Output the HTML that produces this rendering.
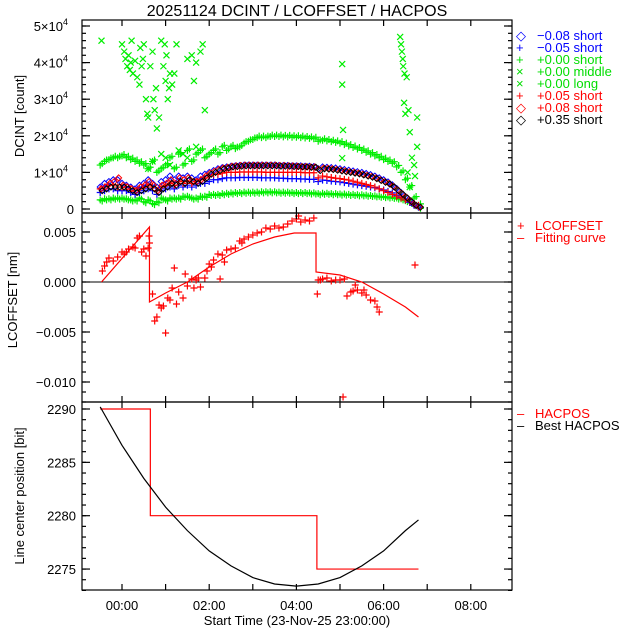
<!DOCTYPE html>
<html><head><meta charset="utf-8"><style>
body{margin:0;background:#fff}
svg{display:block;font-family:"Liberation Sans","DejaVu Sans",sans-serif}
</style></head><body>
<svg id="c" width="640" height="640" viewBox="0 0 640 640"></svg>
<script>
// ---------- data ----------
const times=[];for(let i=0;i<74;i++)times.push(-0.5+i*0.1);
const greenHi=[12,13,13.5,14,14, 14.5,14,13.5,13,12.5,12,11,13,10,11, 12,14,11,15,12,16,13,15,16,14, 15,16,15,17,16,17,16.5,17,18,18.5, 19,19.5,19.5,19.5,19.8,19.8,19.8,19.7,19.7,19.6, 19.6,19.5,19.4,19.3,19.2,18.5,18.8,18.6,18.4,18.2, 18,17.6,17.2,16.8,16.4,16,15.5,15,14.5,14, 13.5,13,12.5,11.5,10,8,6,3,1];
const greenLo=[2.5,2.8,2.8,3,3, 3,2.8,2.5,2.5,3,2,2.5,1.5,2,3, 2.5,3,3,3,3.5,3.5,3,3,3.5,3.5, 4,4,4,4.2,4.3,4.4,4.5,4.5,4.6,4.6, 4.6,4.6,4.7,4.7,4.7,4.7,4.6,4.6,4.6,4.5, 4.5,4.5,4.5,4.4,4.4,4.2,4.3,4.3,4.2,4.2, 4.1,4.1,4,4,3.9,3.9,3.8,3.7,3.6,3.5, 3.4,3.3,3.2,3,2.8,2.3,1.8,1.2,0.5];
const blueP=[4.5,5,5.5,5.5,5, 5,5,4.5,4,4.5,5,5.5,5,4,5, 5.5,6,5.5,6.5,6,6.5,6,6.5,7,7, 7.5,8,8,8.3,8.5,8.5,8.5,8.6,8.6,8.6, 8.6,8.6,8.5,8.5,8.5,8.5,8.4,8.4,8.3,8.3, 8.3,8.2,8.2,8.1,8.1,7.5,7.9,7.8,7.6,7.5, 7.4,7.2,7,6.8,6.6,6.4,6.2,6,5.8,5.5, 5.2,4.8,4.4,3.8,3.2,2.5,1.8,1,0.5];
const redP=[5.5,6,6.5,6.5,6, 6,6,5.5,5,5.5,6,6.5,6,5,6, 6.5,7,6.5,7.5,7,7.5,7,7.5,8,8.5, 9,9.5,9.5,9.8,10,10,10,10.1,10.1,10.1, 10.1,10.1,10.1,10,10,10,10,10,10,10, 10,10,9.9,9.9,9.9,8.5,9,8.8,8.6,8.4, 8.3,8.1,7.9,7.6,7.3,7,6.7,6.4,6,5.5, 5,4.5,4,3.5,3,2.5,2,1.5,1];
const blackD=[5,5.5,6,6,6, 6,5.5,5,4.5,5,5.5,6,5.5,4.5,5.5, 6,7,6.5,7.5,7,8,7.5,7,7.5,8.5, 9.5,10,10.5,11,11.2,11.5,11.6,11.7,11.8,11.8, 11.8,11.8,11.8,11.8,11.8,11.8,11.7,11.7,11.7,11.6, 11.6,11.5,11.5,11.4,11.4,10.5,11,10.9,10.8,10.6, 10.4,10.2,10,9.8,9.6,9.3,9,8.7,8.3,7.8, 7.3,6.8,6,5,4,3,2,1,0.5];
const blueD=[6,7,7.5,8,8, 7,6.5,6,5.5,6.5,7,8,7,6,7.5, 8,9,8,9,8.5,9,8.5,8,9,9.5, 10,10.5,11,11.3,11.5,11.7,11.8,11.9,12,12, 12,12,12,12,12,12,11.9,11.9,11.9,11.8, 11.8,11.8,11.7,11.7,11.6,11,11.5,11.4,11.3,11.2, 11,10.8,10.6,10.4,10.2,10,9.7,9.4,9,8.5, 8,7.4,6.6,5.6,4.5,3.4,2.3,1.2,0.6];
const redD=[5.5,6,7,7.5,8.5, 6.5,6,5.5,5,6,6.5,7.5,6.5,5,6.5, 7,8,7,8.5,8,8.5,7.5,7.5,8,9, 9.8,10.3,10.8,11.2,11.4,11.7,11.8,11.9,12,12, 12,12,12,12,12,12,11.9,11.9,11.8,11.8, 11.7,11.6,11.6,11.5,11.5,10.8,11.2,11.1,11,10.8, 10.6,10.4,10.2,10,9.8,9.5,9.2,8.9,8.5,8, 7.5,7,6.2,5.2,4.2,3.2,2.2,1.1,0.5];
const gxT=[-0.47,0.0,0.05,0.08,0.12,0.15,0.18,0.2,0.22,0.25,0.3,0.35,0.4,0.42,0.45,0.48,0.5,0.55,0.58,0.6,0.65,0.7,0.72,0.75,0.78,0.8,0.85,0.9,0.95,0.98,1.0,1.02,1.05,1.08,1.1,1.15,1.2,1.25,1.5,1.6,1.65,1.7,1.8,1.85,1.9,0.7,0.9,1.1,1.3,1.5,1.7,0.6,1.0,1.4,5.05,5.05,5.07,5.05,6.38,6.4,6.42,6.44,6.45,6.48,6.53,6.47,6.57,6.5,6.77,6.6,6.77,6.65,6.7,6.55,6.72,6.6];
const gxV=[46,45,43,41,39,42,38,40,46,37,40.5,36,34,44,39,41,45,30,26,25,39,43,30,27,33,22,25,46,39,45,35,42,30,33,37,34,37,45,41,42,35,40,43,45,27,13,15,12,16,14,17,11,14,15,39.6,34,21.6,13.9,47,45,43,41,39,37,36,29,27,26,25,21,17,14,12,10,9,6];
const lcT=[-0.45,-0.4,-0.35,-0.3,-0.2,-0.1,0.0,0.05,0.1,0.15,0.25,0.3,0.35,0.4,0.45,0.5,0.55,0.6,0.63,0.62,0.7,0.75,0.8,0.85,0.9,0.95,1.0,1.05,1.1,1.15,1.2,1.25,1.3,1.4,1.45,1.5,1.6,1.65,1.7,1.75,1.8,1.9,1.95,2.0,2.05,2.1,2.2,2.25,2.3,2.35,2.4,2.5,2.6,2.7,2.75,2.8,2.9,3.0,3.1,3.2,3.3,3.4,3.5,3.6,3.7,3.8,3.9,4.0,4.05,4.1,4.2,4.3,4.4,4.5,4.48,4.55,4.6,4.7,4.8,4.9,5.0,5.1,5.16,5.25,5.3,5.35,5.4,5.5,5.55,5.6,5.7,5.8,5.85,5.9,6.72,5.07];
const lcV=[0.0011,0.0016,0.002,0.0024,0.0021,0.0025,0.003,0.0028,0.003,0.0033,0.0035,0.0034,0.0044,0.0046,0.003,0.0033,0.0026,0.0034,0.0039,0.0046,-0.0012,-0.0039,-0.0035,-0.0023,-0.0026,-0.0024,-0.0051,-0.0016,-0.0018,-0.0006,0.0014,-0.0022,-0.001,-0.0016,0.0008,-0.0004,0.0003,-0.0006,0.0002,0.0004,-0.0005,0.0004,0.0011,0.0018,0.0015,0.0022,0.0028,0.0003,0.0027,0.002,0.0032,0.0033,0.0034,0.0041,0.0039,0.0043,0.0045,0.0047,0.0049,0.005,0.0054,0.0053,0.0056,0.0054,0.0055,0.0058,0.0061,0.0063,0.0066,0.006,0.0062,0.0061,0.0064,0.0002,-0.0012,0.0002,0.0003,0.0004,0.0001,0.0002,0.0002,0.0003,-0.0014,-0.001,-0.0009,-0.0003,-0.0008,-0.0011,-0.0008,-0.0013,-0.0018,-0.0019,-0.0025,-0.003,0.0017,-0.0115];
const fitT=[-0.47,0.63,0.63,1.0,1.5,2.0,2.5,3.0,3.5,3.95,4.45,4.45,5.0,5.5,6.0,6.5,6.8];
const fitV=[0,0.0055,-0.002,-0.0011,0,0.0015,0.0028,0.0038,0.0045,0.0049,0.0049,0.001,0.0007,0,-0.0012,-0.0025,-0.0035];
const hacT=[-0.5,0.65,0.65,4.47,4.47,6.8];
const hacV=[2290,2290,2280,2280,2275,2275];
const bestT=[-0.5,0,0.5,1,1.5,2,2.5,3,3.5,4,4.5,5,5.5,6,6.5,6.8];
const bestV=[2290.2,2286.6,2283.5,2280.8,2278.6,2276.7,2275.3,2274.2,2273.6,2273.4,2273.6,2274.2,2275.3,2276.7,2278.6,2279.6];
const xTickLabels=["00:00","02:00","04:00","06:00","08:00"];
const topTicks=["0","1×10","2×10","3×10","4×10","5×10"];
const midTicks=["0.005","0.000","\u22120.005","\u22120.010"];
const botTicks=["2290","2285","2280","2275"];

// ---------- helpers ----------
const NS="http://www.w3.org/2000/svg",svg=document.getElementById('c');
function mk(tag,at,parent){const e=document.createElementNS(NS,tag);for(const k in at)e.setAttribute(k,at[k]);(parent||svg).appendChild(e);return e;}
const L=82,R=512;
const X=t=>122+t*43.6;
const Y1=v=>209-v*3.66;            // thousands
const Y2=v=>282-v*10000;
const Y3=v=>409+(2290-v)*10.67;
const P=[[20,213],[213,402],[402,590]];

// clip paths
const defs=mk('defs',{});
P.forEach((p,i)=>{const cp=mk('clipPath',{id:'cp'+i},defs);mk('rect',{x:L,y:p[0],width:R-L,height:p[1]-p[0]},cp);});

function plus(g,x,y,c,s){mk('path',{d:`M${x-s} ${y}H${x+s}M${x} ${y-s}V${y+s}`,stroke:c,'stroke-width':1.2,fill:'none'},g);}
function cross(g,x,y,c,s){mk('path',{d:`M${x-s} ${y-s}L${x+s} ${y+s}M${x-s} ${y+s}L${x+s} ${y-s}`,stroke:c,'stroke-width':1.2,fill:'none'},g);}
function diam(g,x,y,c,s){mk('path',{d:`M${x} ${y-s}L${x+s} ${y}L${x} ${y+s}L${x-s} ${y}Z`,stroke:c,'stroke-width':1,fill:'none'},g);}

// title
const title=mk('text',{x:297,y:16,'text-anchor':'middle','font-size':16,fill:'#000'});title.textContent='20251124 DCINT / LCOFFSET / HACPOS';


// ---------- top panel ----------
const g1=mk('g',{'clip-path':'url(#cp0)'});


times.forEach((t,i)=>{plus(g1,X(t),Y1(greenLo[i]),'#00ee00',3.5);plus(g1,X(t)+2,Y1(greenLo[i]-0.3),'#00ee00',3.5);});
times.forEach((t,i)=>{plus(g1,X(t),Y1(greenHi[i]),'#00ee00',3.5);plus(g1,X(t)+2,Y1(greenHi[i]+0.4),'#00ee00',3.5);});
gxT.forEach((t,i)=>cross(g1,X(t),Y1(gxV[i]),'#00ee00',3));
times.forEach((t,i)=>plus(g1,X(t),Y1(blueP[i]),'#0000ff',3.5));
times.forEach((t,i)=>plus(g1,X(t),Y1(redP[i]),'#ff0000',3.5));
times.forEach((t,i)=>diam(g1,X(t),Y1(blueD[i]),'#0000ff',3));
times.forEach((t,i)=>diam(g1,X(t)+1,Y1(redD[i]),'#ff0000',3));
times.forEach((t,i)=>diam(g1,X(t)+2,Y1(blackD[i]),'#000',3));

// ---------- middle panel ----------
const g2=mk('g',{'clip-path':'url(#cp1)'});


mk('line',{x1:L,x2:R,y1:Y2(0),y2:Y2(0),stroke:'#000','stroke-width':1},g2);
const fit=mk('polyline',{points:fitT.map((t,i)=>X(t)+','+Y2(fitV[i])).join(' '),fill:'none',stroke:'#ff0000','stroke-width':1.2},g2);

lcT.forEach((t,i)=>plus(g2,X(t),Y2(lcV[i]),'#ff0000',3.5));

// ---------- bottom panel ----------
const g3=mk('g',{'clip-path':'url(#cp2)'});


mk('polyline',{points:hacT.map((t,i)=>X(t)+','+Y3(hacV[i])).join(' '),fill:'none',stroke:'#ff0000','stroke-width':1.2},g3);
mk('polyline',{points:bestT.map((t,i)=>X(t)+','+Y3(bestV[i])).join(' '),fill:'none',stroke:'#000','stroke-width':1.2},g3);

// ---------- axes ----------
const ax=mk('g',{stroke:'#000','stroke-width':1.2,fill:'none'});


P.forEach(p=>mk('rect',{x:L,y:p[0],width:R-L,height:p[1]-p[0]},ax));
// x ticks
P.forEach(p=>{for(let h=-0;h<=8;h++){const x=X(h);mk('line',{x1:x,x2:x,y1:p[1],y2:p[1]-6},ax);mk('line',{x1:x,x2:x,y1:p[0],y2:p[0]+6},ax);}});
// y ticks
function yt(vals,fn,len){vals.forEach(v=>{const y=fn(v);mk('line',{x1:L,x2:L+len,y1:y,y2:y},ax);mk('line',{x1:R,x2:R-len,y1:y,y2:y},ax);});}
const tMaj=[],tMin=[];for(let v=0;v<=50;v+=10)tMaj.push(v);for(let v=0;v<=50;v+=2)tMin.push(v);
yt(tMaj,Y1,8);yt(tMin,Y1,4);
const mMaj=[0.005,0,-0.005,-0.010],mMin=[];for(let k=-12;k<=6;k++)mMin.push(k*0.001);
yt(mMaj,Y2,8);yt(mMin,Y2,4);
const bMaj=[2290,2285,2280,2275],bMin=[];for(let v=2273;v<=2290;v++)bMin.push(v);
yt(bMaj,Y3,8);yt(bMin,Y3,4);

// tick labels
const lab=mk('g',{'font-size':13,fill:'#000','text-anchor':'end'});


topTicks.forEach((s,i)=>{const t=mk('text',{x:i?68:74,y:Y1(i*10)+5},lab);t.textContent=s;if(i){const sp=mk('tspan',{dy:-6,'font-size':9},t);sp.textContent='4';}});
midTicks.forEach((s,i)=>{const t=mk('text',{x:76,y:Y2(mMaj[i])+5},lab);t.textContent=s;});
botTicks.forEach((s,i)=>{const t=mk('text',{x:76,y:Y3(bMaj[i])+5},lab);t.textContent=s;});
xTickLabels.forEach((s,i)=>{const t=mk('text',{x:X(i*2),y:610,'text-anchor':'middle'},lab);t.textContent=s;});

// axis titles
function at(txt,x,y,rot,name){const t=mk('text',{x:x,y:y,'font-size':13,'text-anchor':'middle',fill:'#000',transform:rot?`rotate(-90 ${x} ${y})`:''});t.textContent=txt;}
at('DCINT [count]',24,116,1,'y-axis-title-dcint');
at('LCOFFSET [nm]',17,300,1,'y-axis-title-lcoffset');
at('Line center position [bit]',24,496,1,'y-axis-title-hacpos');
at('Start Time (23-Nov-25 23:00:00)',297,625,0,'x-axis-title');

// legends
const leg=[['\u25c7','\u22120.08 short','#0000ff'],['+','\u22120.05 short','#0000ff'],['+','+0.00 short','#00dd00'],['\u00d7','+0.00 middle','#00dd00'],['\u00d7','+0.00 long','#00dd00'],['+','+0.05 short','#ff0000'],['\u25c7','+0.08 short','#ff0000'],['\u25c7','+0.35 short','#000']];
const lg=mk('g',{'font-size':13});


leg.forEach((e,i)=>{const y=40+i*12;const s=mk('text',{x:516,y:y,fill:e[2]},lg);s.textContent=e[0];const t=mk('text',{x:537,y:y,fill:e[2]},lg);t.textContent=e[1];});
function leg2(items,y0,name){const g=mk('g',{'font-size':13});items.forEach((e,i)=>{const y=y0+i*12;const s=mk('text',{x:517,y:y,fill:e[2]},g);s.textContent=e[0];const t=mk('text',{x:535,y:y,fill:e[2]},g);t.textContent=e[1];});}
leg2([['+','LCOFFSET','#ff0000'],['\u2013','Fitting curve','#ff0000']],230,'legend-lcoffset');
leg2([['\u2013','HACPOS','#ff0000'],['\u2013','Best HACPOS','#000']],418,'legend-hacpos');
</script>
</body></html>
